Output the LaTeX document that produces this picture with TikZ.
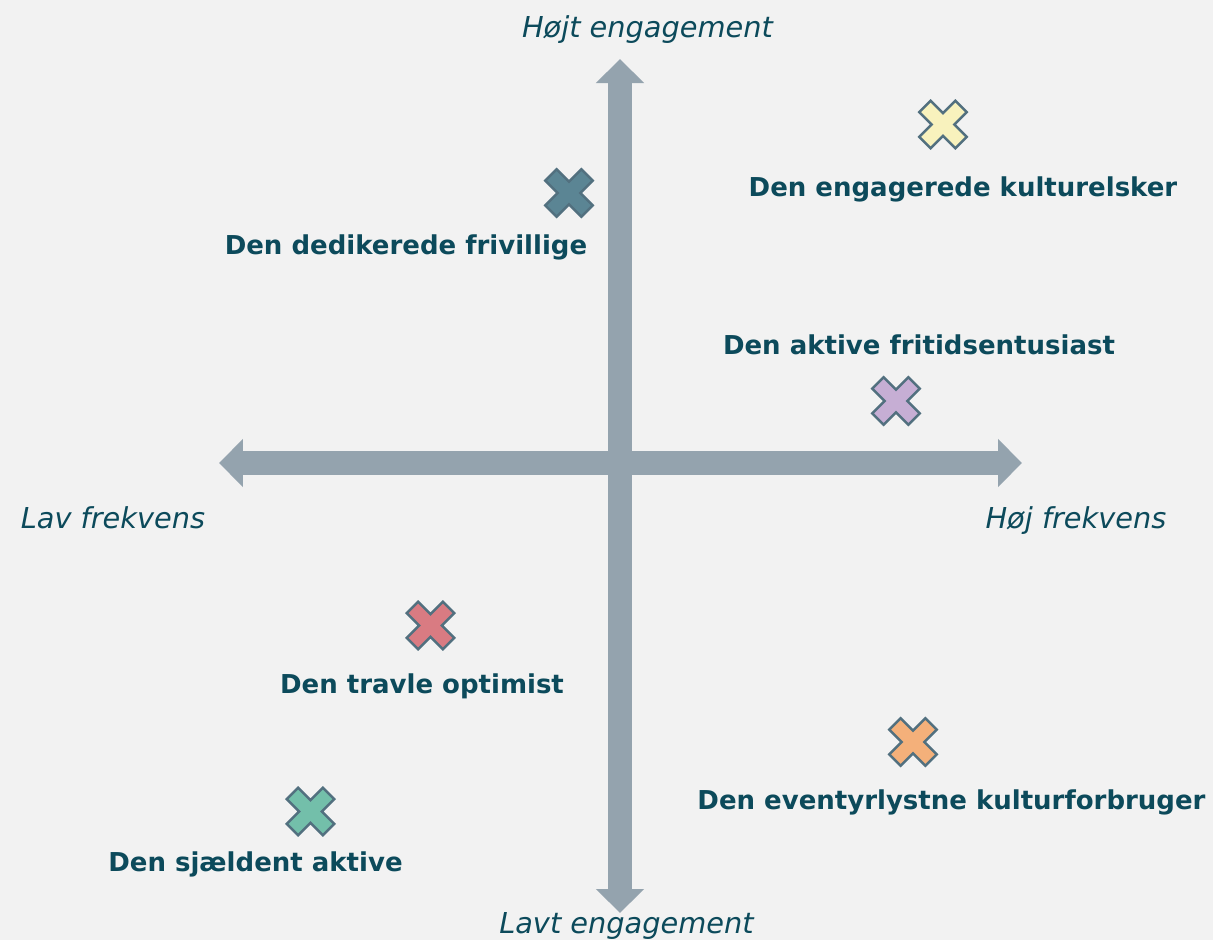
\documentclass[tikz,border=0pt]{standalone}
\usepackage{fontspec}
\setmainfont{DejaVu Sans}
\usepackage{xcolor}
\usepackage{tikz}
\usetikzlibrary{arrows.meta}

\definecolor{baggrund}{HTML}{F2F2F2}
\definecolor{aksefarve}{HTML}{94A3AE}
\definecolor{tekstfarve}{HTML}{0C4A5B}
\definecolor{kantfarve}{HTML}{52707F}
\definecolor{krydsTeal}{HTML}{5B8594}
\definecolor{krydsGul}{HTML}{F8F2BD}
\definecolor{krydsLilla}{HTML}{C6AED4}
\definecolor{krydsRoed}{HTML}{D97B82}
\definecolor{krydsOrange}{HTML}{F4B07A}
\definecolor{krydsGroen}{HTML}{73BFAA}

\tikzset{
    akse/.style={draw=aksefarve, line width=17.5pt,
        {Triangle[width=35pt, length=18pt]}-{Triangle[width=35pt, length=18pt]}},
    profil/.style={text=tekstfarve, font=\bfseries\fontsize{19.5}{24}\selectfont, anchor=base, inner sep=0pt},
    aksetekst/.style={text=tekstfarve, font=\itshape\fontsize{21.6}{26}\selectfont, anchor=base, inner sep=0pt},
    pics/kryds/.style={code={
        \filldraw[draw=kantfarve, line width=1.9pt, line join=miter, fill=#1, rotate=45]
            (8,8) -- (25.5,8) -- (25.5,-8) -- (8,-8) -- (8,-25.5) -- (-8,-25.5)
            -- (-8,-8) -- (-25.5,-8) -- (-25.5,8) -- (-8,8) -- (-8,25.5) -- (8,25.5) -- cycle;
    }}
}

\begin{document}
\begin{tikzpicture}[x=0.75pt, y=0.75pt]
        \fill[baggrund] (-620,463) rectangle (593,-477);
        \useasboundingbox (-620,463) rectangle (593,-477);
        \coordinate (venstre) at (-401,0);
        \coordinate (hoejre) at (402,0);
        \coordinate (top) at (0,404);
        \coordinate (bund) at (0,-450);
        \draw[akse] (venstre) -- (hoejre);
        \draw[akse] (bund) -- (top);
        \node[aksetekst] (hoejtEng) at (27.5,426) {Højt engagement};
        \node[aksetekst] (lavtEng) at (6.5,-470) {Lavt engagement};
        \node[aksetekst] (lavFrek) at (-507,-65) {Lav frekvens};
        \node[aksetekst] (hoejFrek) at (456,-65) {Høj frekvens};
        \pic (frivillig) at (-51,270) {kryds=krydsTeal};
        \pic (kulturelsker) at (323,338.5) {kryds=krydsGul};
        \pic (fritid) at (276,62) {kryds=krydsLilla};
        \pic (optimist) at (-189.5,-162.5) {kryds=krydsRoed};
        \pic (eventyr) at (293,-279) {kryds=krydsOrange};
        \pic (sjaelden) at (-309.5,-348.5) {kryds=krydsGroen};
        \node[profil] (frivilligTekst) at (-214,209) {Den dedikerede frivillige};
        \node[profil] (kulturelskerTekst) at (343,267) {Den engagerede kulturelsker};
        \node[profil] (fritidTekst) at (299,109) {Den aktive fritidsentusiast};
        \node[profil] (optimistTekst) at (-198,-230) {Den travle optimist};
        \node[profil] (eventyrTekst) at (331.5,-346) {Den eventyrlystne kulturforbruger};
        \node[profil] (sjaeldenTekst) at (-364.5,-408) {Den sjældent aktive};
    \end{tikzpicture}
\end{document}
